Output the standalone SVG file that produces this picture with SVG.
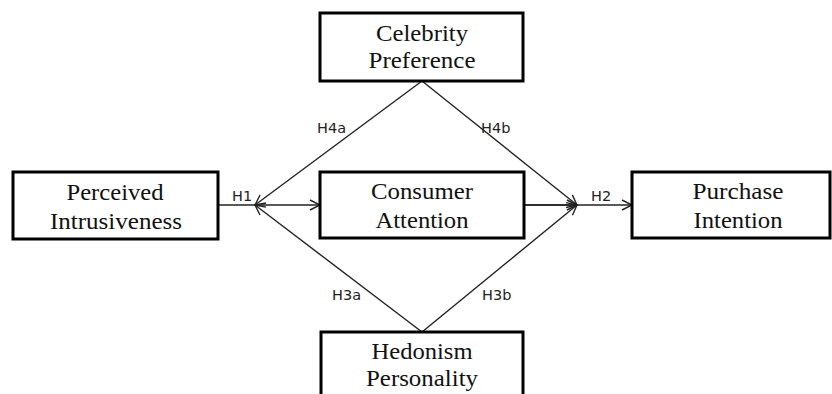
<svg xmlns="http://www.w3.org/2000/svg" width="832" height="394" viewBox="0 0 832 394">
<defs>
<style>
.box{fill:#fff;stroke:#000;stroke-width:3}
.t{font-family:"Liberation Serif","Times New Roman",serif;font-size:23px;fill:#111;text-anchor:middle}
.lb{font-family:"DejaVu Sans","Verdana",sans-serif;font-size:14.5px;fill:#222}
.c{stroke:#222;stroke-width:1.4;fill:none}
</style>
<marker id="ah" viewBox="0 0 12 12" refX="11" refY="6" markerWidth="12" markerHeight="12" markerUnits="userSpaceOnUse" orient="auto">
<path d="M1,1 L11,6 L1,11" fill="none" stroke="#222" stroke-width="1.4"/>
</marker>
</defs>
<rect width="832" height="394" fill="#fff"/>
<g id="connectors">
<line class="c" x1="218" y1="205" x2="320" y2="205" marker-end="url(#ah)"/>
<line class="c" x1="524" y1="205" x2="632" y2="205" marker-end="url(#ah)"/>
<line class="c" x1="524" y1="205" x2="577" y2="205" marker-end="url(#ah)"/>
<line class="c" x1="422" y1="81" x2="255" y2="205" marker-end="url(#ah)"/>
<line class="c" x1="422" y1="81" x2="577" y2="205" marker-end="url(#ah)"/>
<line class="c" x1="422" y1="332" x2="255" y2="205" marker-end="url(#ah)"/>
<line class="c" x1="422" y1="332" x2="577" y2="205" marker-end="url(#ah)"/>
<text class="lb" x="232" y="201">H1</text>
<text class="lb" x="591" y="201">H2</text>
<text class="lb" x="317" y="133">H4a</text>
<text class="lb" x="481" y="133">H4b</text>
<text class="lb" x="332" y="300">H3a</text>
<text class="lb" x="482" y="300">H3b</text>
</g>
<g id="celebrity">
<rect class="box" x="320" y="13" width="203" height="68"/>
<text class="t" x="422" y="41" textLength="92" lengthAdjust="spacingAndGlyphs">Celebrity</text>
<text class="t" x="422" y="68" textLength="107" lengthAdjust="spacingAndGlyphs">Preference</text>
</g>
<g id="perceived">
<rect class="box" x="13" y="172" width="205" height="67"/>
<text class="t" x="115" y="200" textLength="97" lengthAdjust="spacingAndGlyphs">Perceived</text>
<text class="t" x="116" y="229" textLength="132" lengthAdjust="spacingAndGlyphs">Intrusiveness</text>
</g>
<g id="consumer">
<rect class="box" x="320" y="172" width="204" height="66"/>
<text class="t" x="422" y="199" textLength="102" lengthAdjust="spacingAndGlyphs">Consumer</text>
<text class="t" x="422" y="228" textLength="93" lengthAdjust="spacingAndGlyphs">Attention</text>
</g>
<g id="purchase">
<rect class="box" x="632" y="172" width="198" height="66"/>
<text class="t" x="738" y="199" textLength="91" lengthAdjust="spacingAndGlyphs">Purchase</text>
<text class="t" x="738" y="228" textLength="89" lengthAdjust="spacingAndGlyphs">Intention</text>
</g>
<g id="hedonism">
<rect class="box" x="321" y="332" width="202" height="80"/>
<text class="t" x="422" y="359" textLength="101" lengthAdjust="spacingAndGlyphs">Hedonism</text>
<text class="t" x="422" y="386" textLength="112" lengthAdjust="spacingAndGlyphs">Personality</text>
</g>
</svg>
